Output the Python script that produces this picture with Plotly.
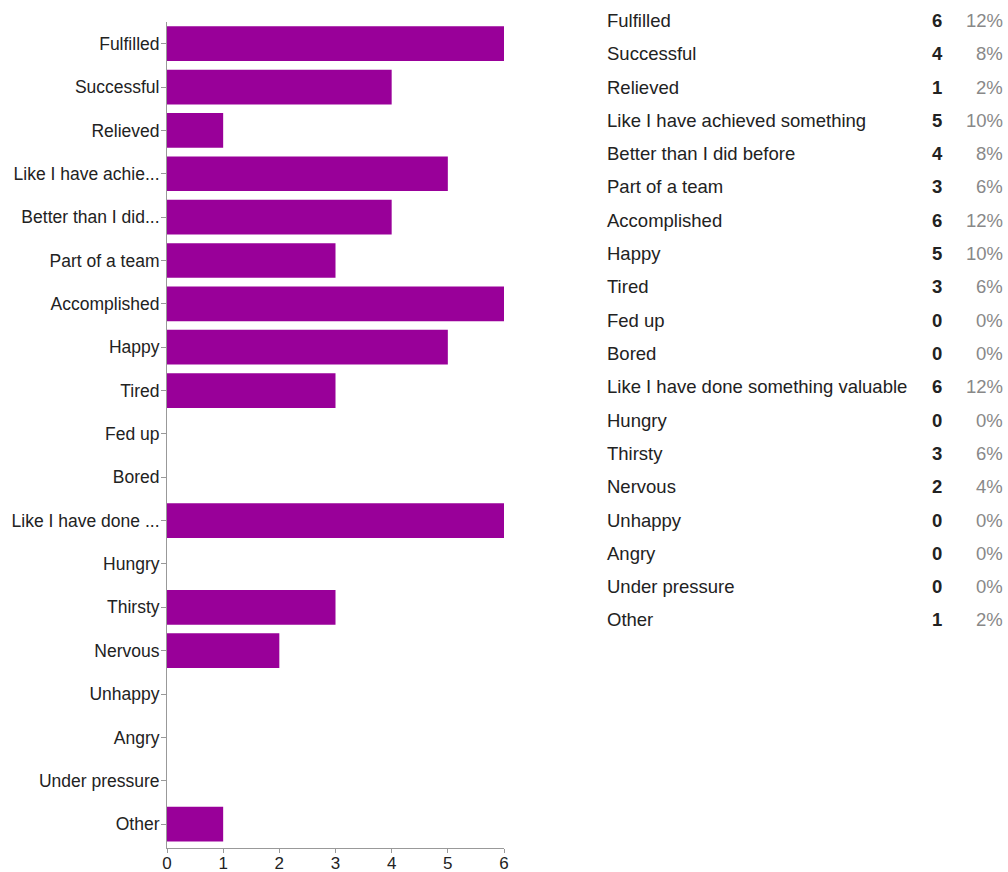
import plotly.graph_objects as go

# Survey responses: "How did you feel?"
categories = [
    "Fulfilled", "Successful", "Relieved", "Like I have achieved something",
    "Better than I did before", "Part of a team", "Accomplished", "Happy",
    "Tired", "Fed up", "Bored", "Like I have done something valuable",
    "Hungry", "Thirsty", "Nervous", "Unhappy", "Angry", "Under pressure", "Other",
]
counts = [6, 4, 1, 5, 4, 3, 6, 5, 3, 0, 0, 6, 0, 3, 2, 0, 0, 0, 1]
percents = ["12%", "8%", "2%", "10%", "8%", "6%", "12%", "10%", "6%", "0%",
            "0%", "12%", "0%", "6%", "4%", "0%", "0%", "0%", "2%"]
x_ticks = [0, 1, 2, 3, 4, 5, 6]


def short(label, keep=17, limit=20):
    return label[:keep] + "..." if len(label) > limit else label


tick_labels = [short(c) for c in categories]

W, H = 1008, 872
left, right, top, bottom = 167, 0, 22, 24
plot_w = W - left - right
plot_h = H - top - bottom
bar_right = 504

FONT = "Liberation Sans, Arial, sans-serif"
TEXT = "#222222"
AXIS = "#999999"

fig = go.Figure()
fig.add_trace(go.Bar(
    x=counts, y=categories, orientation="h",
    marker=dict(color="#990099", line=dict(width=0)),
    hoverinfo="x+y", showlegend=False,
))

fig.update_layout(
    width=W, height=H,
    margin=dict(l=left, r=right, t=top, b=bottom, pad=0, autoexpand=False),
    paper_bgcolor="white", plot_bgcolor="white",
    bargap=0.2,
    font=dict(family=FONT, color=TEXT, size=17.5),
    xaxis=dict(
        domain=[0, (bar_right - left) / plot_w],
        range=[0, 6], tickvals=x_ticks, ticktext=[str(v) for v in x_ticks],
        showgrid=False, zeroline=False, automargin=False,
        showline=True, linecolor=AXIS, linewidth=1,
        ticks="outside", ticklen=4, tickcolor=AXIS, ticklabelstandoff=-4,
        tickfont=dict(size=17, color=TEXT), fixedrange=True,
    ),
    yaxis=dict(
        categoryorder="array", categoryarray=categories,
        tickvals=categories, ticktext=tick_labels,
        range=[len(categories) - 0.5 + 0.05, -0.5],
        showgrid=False, zeroline=False, automargin=False,
        showline=True, linecolor=AXIS, linewidth=1,
        ticks="outside", ticklen=5, tickcolor=AXIS, ticklabelstandoff=-2,
        tickfont=dict(size=17.5, color=TEXT), fixedrange=True,
    ),
)


def px_x(p):
    return (p - left) / plot_w


def px_y(p):
    return (H - bottom - p) / plot_h


# Summary table on the right: label, count, percentage
row0, row_step = 20.5, 33.3
for i, (cat, n, pct) in enumerate(zip(categories, counts, percents)):
    yy = px_y(row0 + row_step * i)
    fig.add_annotation(x=px_x(605), y=yy, xref="paper", yref="paper",
                       text=cat, showarrow=False, xanchor="left", yanchor="middle",
                       font=dict(size=18.5, color=TEXT, family=FONT))
    fig.add_annotation(x=px_x(937), y=yy, xref="paper", yref="paper",
                       text=f"<b>{n}</b>", showarrow=False, xanchor="center", yanchor="middle",
                       font=dict(size=18.5, color=TEXT, family=FONT))
    fig.add_annotation(x=px_x(1005), y=yy, xref="paper", yref="paper",
                       text=pct, showarrow=False, xanchor="right", yanchor="middle",
                       font=dict(size=18.5, color="#888888", family=FONT))

fig.write_html("out.html", config={"displayModeBar": False})
